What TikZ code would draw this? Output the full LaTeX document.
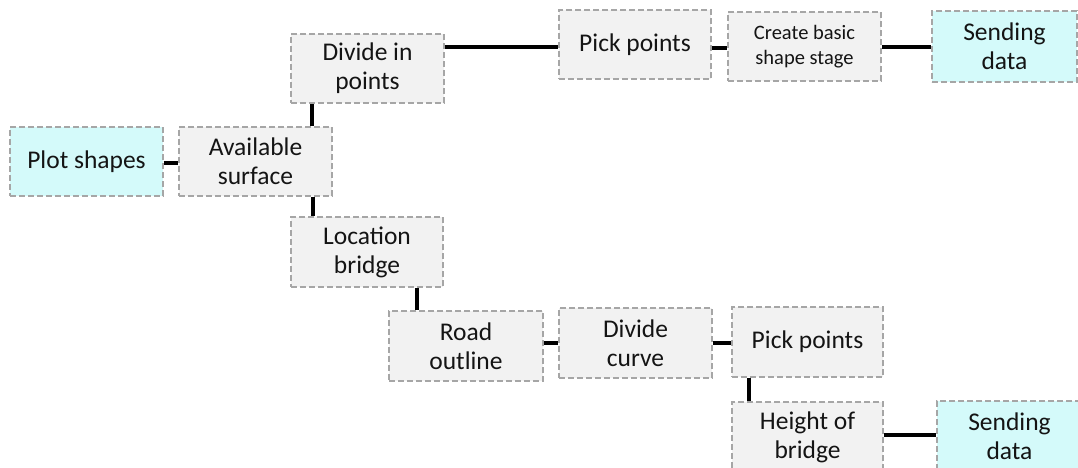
\documentclass[tikz,border=0pt]{standalone}
\usepackage{fontspec}
\setmainfont{Carlito}
\definecolor{stagefill}{RGB}{242,242,242}
\definecolor{endfill}{RGB}{212,250,250}
\definecolor{boxline}{RGB}{166,166,166}
\definecolor{textc}{RGB}{20,20,20}
\begin{document}
\begin{tikzpicture}[x=1pt,y=-1pt,
  stage/.style={draw=boxline, dash pattern=on 6pt off 3pt, line width=1.3pt,
    fill=stagefill, inner sep=0pt, align=center, text=textc,
    font=\fontsize{25.5}{29}\selectfont},
  endstage/.style={stage, fill=endfill},
  smalltext/.style={font=\fontsize{20.5}{25}\selectfont},
  link/.style={line width=4pt, line cap=butt}]
\useasboundingbox (0,0) rectangle (1078,468);
\clip (0,0) rectangle (1078,468);

% stages
\node[endstage, minimum width=153pt, minimum height=69pt] (plot)   at (86.5,161.5) {Plot shapes};
\node[stage, minimum width=153pt, minimum height=69pt] (avail)     at (255.5,161.5) {Available\\surface};
\node[stage, minimum width=153pt, minimum height=69pt] (divpts)    at (367.5,68.5) {Divide in\\points};
\node[stage, minimum width=152pt, minimum height=69pt] (pickA)     at (635,44.5) {Pick points};
\node[stage, smalltext, minimum width=153pt, minimum height=69pt] (create) at (804.5,46.5) {Create basic\\shape stage};
\node[endstage, minimum width=145pt, minimum height=71pt] (sendA)  at (1004.5,46.5) {Sending\\data};
\node[stage, minimum width=152pt, minimum height=70pt] (loc)       at (367,252) {Location\\bridge};
\node[stage, minimum width=154pt, minimum height=70pt] (road)      at (466,346) {Road\\outline};
\node[stage, minimum width=153pt, minimum height=70pt] (divcurve)  at (635.5,343) {Divide\\curve};
\node[stage, minimum width=151pt, minimum height=70pt] (pickB)     at (807.5,342) {Pick points};
\node[stage, minimum width=151pt, minimum height=70pt] (height)    at (807.5,437) {Height of\\bridge};
\node[endstage, minimum width=145pt, minimum height=70pt] (sendB)  at (1009.5,436) {Sending\\data};

% connectors
\draw[link] ([yshift=-1.5pt]plot.east) -- ([yshift=-1.5pt]avail.west);
\draw[link] ([xshift=56.5pt]avail.north) -- ([xshift=-55.5pt]divpts.south);
\draw[link] ([yshift=21pt]divpts.east) -- ([yshift=-3pt]pickA.west);
\draw[link] ([yshift=-3.5pt]pickA.east) -- ([yshift=-1.5pt]create.west);
\draw[link] ([yshift=-0.5pt]create.east) -- ([yshift=-0.5pt]sendA.west);
\draw[link] ([xshift=57.5pt]avail.south) -- ([xshift=-54pt]loc.north);
\draw[link] ([xshift=50pt]loc.south) -- ([xshift=-49pt]road.north);
\draw[link] ([yshift=3pt]road.east) -- (divcurve.west);
\draw[link] (divcurve.east) -- ([yshift=-1pt]pickB.west);
\draw[link] ([xshift=-58.5pt]pickB.south) -- ([xshift=-58.5pt]height.north);
\draw[link] ([yshift=2pt]height.east) -- ([yshift=1pt]sendB.west);
\end{tikzpicture}
\end{document}
